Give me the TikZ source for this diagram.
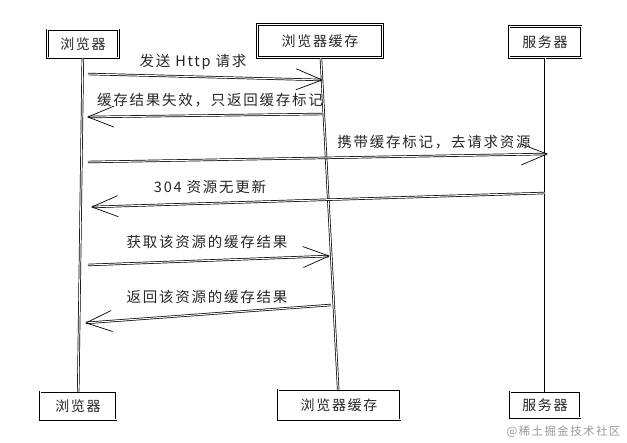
\documentclass[tikz,border=0pt]{standalone}
\usepackage{fontspec}
\newfontfamily\cjk[LetterSpace=12]{Noto Sans CJK SC}
\usepackage{tikz}
\usetikzlibrary{
  arrows.meta,
  positioning,
  calc,
}

\begin{document}
\begin{tikzpicture}[
  x=1pt, y=-1pt,
  >={Straight Barb[length=26pt,width=21pt]},
  sketch/.style={draw=black, line width=0.7pt, double=white, double distance=1pt},
  actor/.style={sketch, minimum width=71pt, minimum height=28pt, inner sep=2pt,
    font=\cjk\fontsize{14}{16}\selectfont, text=black!85},
  life/.style={sketch},
  msg/.style={sketch, ->},
  lbl/.style={font=\cjk\fontsize{14.5}{16}\selectfont, text=black!85, inner sep=1pt},
]
  \useasboundingbox (0,0) rectangle (627,443);

  % Participants, top row
  \node[actor] (b1) at (83,44) {浏览器};
  \node[actor, minimum width=125pt, minimum height=33pt] (c1) at (320,41) {浏览器缓存};
  \node[actor, minimum width=72pt, minimum height=31pt] (s1) at (545,42) {服务器};

  % Participants, bottom row
  \node[actor, minimum width=76pt] (b2) at (78,406) {浏览器};
  \node[actor, minimum width=122pt, minimum height=30pt] (c2) at (339,405) {浏览器缓存};
  \node[actor, minimum width=70pt, minimum height=26pt] (s2) at (545,405) {服务器};

  % Lifelines
  \draw[life] (b1) -- (b2);
  \draw[life] (c1) -- (c2);
  \draw[life] (s1) -- (s2);

  % Message end points on the lifelines
  \coordinate (m1a) at (88,74);   \coordinate (m1b) at (323,80);
  \coordinate (m2a) at (323,114); \coordinate (m2b) at (87,117);
  \coordinate (m3a) at (88,162);  \coordinate (m3b) at (548,154);
  \coordinate (m4a) at (545,193); \coordinate (m4b) at (91,207);
  \coordinate (m5a) at (88,265);  \coordinate (m5b) at (330,256);
  \coordinate (m6a) at (331,305); \coordinate (m6b) at (85,323);

  % Messages
  \draw[msg] (m1a) -- (m1b);
  \node[lbl] (t1) at (193,62) {发送 Http 请求};

  \draw[msg] (m2a) -- (m2b);
  \node[lbl] (t2) at (210,100) {缓存结果失效，只返回缓存标记};

  \draw[msg] (m3a) -- (m3b);
  \node[lbl] (t3) at (434,142) {携带缓存标记，去请求资源};

  \draw[msg] (m4a) -- (m4b);
  \node[lbl] (t4) at (210,187) {304 资源无更新};

  \draw[msg] (m5a) -- (m5b);
  \node[lbl] (t5) at (207,242) {获取该资源的缓存结果};

  \draw[msg] (m6a) -- (m6b);
  \node[lbl] (t6) at (207,297) {返回该资源的缓存结果};

  % Watermark
  \node[font=\cjk\fontsize{11.5}{13}\selectfont, text=black!40, anchor=east] (wm) at (624,432) {@稀土掘金技术社区};
\end{tikzpicture}
\end{document}
